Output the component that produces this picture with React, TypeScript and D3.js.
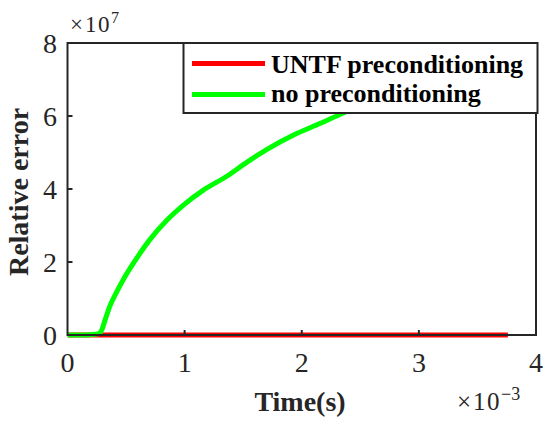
import React from "react";
import * as d3 from "d3";

const xTicks = [0, 1, 2, 3, 4];
const yTicks = [0, 2, 4, 6, 8];

// time in 1e-3 s, values in 1e7
const untfTime = [0, 3.76];
const untfValue = [0, 0];

const noPreTime = [0, 0.1, 0.2, 0.26, 0.29, 0.32, 0.36, 0.42, 0.5, 0.6, 0.7, 0.85, 0.99, 1.16, 1.36, 1.53, 1.7, 1.93, 2.16, 2.36, 2.6];
const noPreValue = [0, 0, 0.01, 0.03, 0.12, 0.4, 0.78, 1.18, 1.65, 2.15, 2.6, 3.15, 3.56, 3.97, 4.35, 4.73, 5.08, 5.48, 5.8, 6.09, 6.4];

const seriesNames = ["UNTF preconditioning", "no preconditioning"];
const seriesColors = ["#ff0000", "#00ff00"];

const W = 550;
const H = 426;
const L = 67.5, R = 536, T = 43, B = 335;

export default function App() {
  const x = d3.scaleLinear().domain([0, 4]).range([L, R]);
  const y = d3.scaleLinear().domain([0, 8]).range([B, T]);
  const line = d3
    .line<[number, number]>()
    .x((d) => x(d[0]))
    .y((d) => y(d[1]))
    .curve(d3.curveMonotoneX);

  const red = line(untfTime.map((t, i) => [t, untfValue[i]]) as [number, number][]) || "";
  const green = line(noPreTime.map((t, i) => [t, noPreValue[i]]) as [number, number][]) || "";
  const axisColor = "#262626";
  const tickFont = "'Liberation Serif', 'Times New Roman', serif";

  return (
    <svg width={W} height={H} style={{ position: "absolute", left: 0, top: 0, background: "#fff" }}>
      <rect x={0} y={0} width={W} height={H} fill="#fff" />
      <clipPath id="plotclip">
        <rect x={L} y={T - 5} width={R - L} height={B - T + 10} />
      </clipPath>
      <g clipPath="url(#plotclip)">
        <path d={red} fill="none" stroke={seriesColors[0]} strokeWidth={5} />
        <path d={green} fill="none" stroke={seriesColors[1]} strokeWidth={5} strokeLinejoin="round" />
      </g>
      {/* frame */}
      <rect x={L} y={T} width={R - L} height={B - T} fill="none" stroke={axisColor} strokeWidth={2} />
      {/* ticks */}
      {xTicks.map((t) => (
        <g key={"x" + t}>
          {t > 0 && t < 4 && <line x1={x(t)} x2={x(t)} y1={B} y2={B - 5} stroke={axisColor} strokeWidth={2} />}
          <text x={x(t)} y={372} textAnchor="middle" fontFamily={tickFont} fontSize={28} fill={axisColor}>
            {t}
          </text>
        </g>
      ))}
      {yTicks.map((t) => (
        <g key={"y" + t}>
          {t > 0 && t < 8 && <line x1={L} x2={L + 5} y1={y(t)} y2={y(t)} stroke={axisColor} strokeWidth={2} />}
          <text x={57} y={y(t) + 9.5} textAnchor="end" fontFamily={tickFont} fontSize={28} fill={axisColor}>
            {t}
          </text>
        </g>
      ))}
      {/* exponents */}
      <text x={70} y={32} fontFamily={tickFont} fontSize={23} fill={axisColor}>
        <tspan>×</tspan>
        <tspan dx={2} letterSpacing={1.5}>10</tspan>
        <tspan dy={-9} fontSize={16}>7</tspan>
      </text>
      <text x={457} y={410} fontFamily={tickFont} fontSize={25} fill={axisColor}>
        <tspan>×</tspan>
        <tspan dx={2} letterSpacing={1.5}>10</tspan>
        <tspan dy={-10} fontSize={18}>−3</tspan>
      </text>
      {/* axis labels */}
      <text x={300} y={411} textAnchor="middle" fontFamily={tickFont} fontWeight="bold" fontSize={28} fill={axisColor}>
        Time(s)
      </text>
      <text
        transform={`translate(28,${192}) rotate(-90)`}
        textAnchor="middle"
        fontFamily={tickFont}
        fontWeight="bold"
        fontSize={28}
        fill={axisColor}
      >
        Relative error
      </text>
      {/* legend */}
      <rect x={183.5} y={43} width={354} height={70} fill="#fff" stroke={axisColor} strokeWidth={2} />
      {seriesNames.map((n, i) => (
        <g key={n}>
          <line x1={192} x2={265} y1={63.5 + i * 31} y2={63.5 + i * 31} stroke={seriesColors[i]} strokeWidth={5} />
          <text x={271} y={73 + i * 29} fontFamily={tickFont} fontWeight="bold" fontSize={26} fill="#000">
            {n}
          </text>
        </g>
      ))}
    </svg>
  );
}
